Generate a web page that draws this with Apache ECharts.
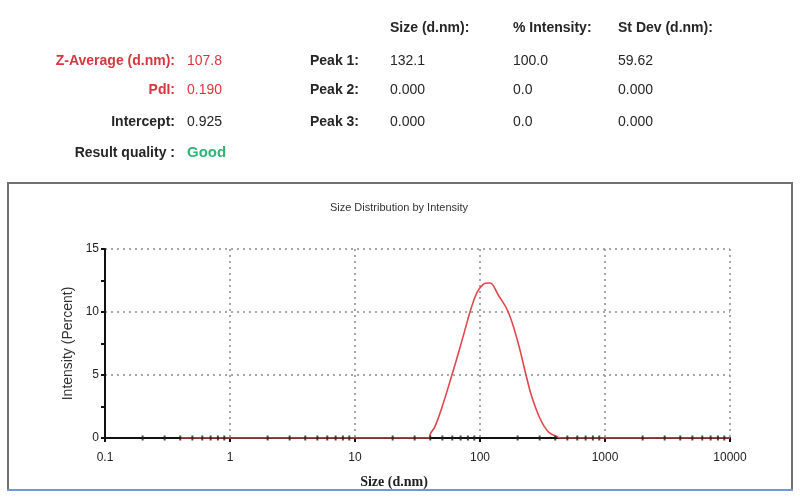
<!DOCTYPE html>
<html>
<head>
<meta charset="utf-8">
<script src="https://cdn.jsdelivr.net/npm/echarts@6/dist/echarts.min.js"></script>
<style>
html,body{margin:0;padding:0;background:#fff;}
#chart{width:800px;height:500px;}
</style>
</head>
<body>
<div id="chart"></div>
<script>
// ---- Data ----
const sizes = [0.4, 38.6, 40.3, 43.6, 50.8, 60.0, 67.0, 75.9, 83.2, 94.1, 106.2, 116.5, 120.2, 140.0, 168.3, 202.4, 232.1, 259.2, 302, 351.6, 411, 440, 10000];
const intensity = [0, 0, 0.37, 0.9, 2.75, 5.1, 6.7, 8.6, 10.0, 11.5, 12.2, 12.3, 12.3, 11.35, 10.0, 7.5, 5.1, 3.3, 1.55, 0.5, 0.12, 0, 0];
const xMinorTicks = [0.2,0.3,0.4,0.5,0.6,0.7,0.8,0.9, 2,3,4,5,6,7,8,9, 20,30,40,50,60,70,80,90, 200,300,400,500,600,700,800,900, 2000,3000,4000,5000,6000,7000,8000,9000];

const chartTitle = 'Size Distribution by Intensity';
const xAxisName = 'Size (d.nm)';
const yAxisName = 'Intensity (Percent)';

const summaryLabels = ['Z-Average (d.nm):', 'PdI:', 'Intercept:', 'Result quality :'];
const summaryValues = ['107.8', '0.190', '0.925', 'Good'];
const peakLabels = ['Peak 1:', 'Peak 2:', 'Peak 3:'];
const peakHeaders = ['Size (d.nm):', '% Intensity:', 'St Dev (d.nm):'];
const peakSize = ['132.1', '0.000', '0.000'];
const peakIntensity = ['100.0', '0.0', '0.0'];
const peakStDev = ['59.62', '0.000', '0.000'];

// ---- Styling / layout ----
const RED = '#d8363f';
const GREEN = '#2fb574';
const DARK = '#262626';
const FONT = 'Liberation Sans, Arial, sans-serif';

const rowY = [61, 90, 122, 153];
const summaryColors = [RED, RED, DARK, DARK];
const valueColors = [RED, RED, DARK, GREEN];
const colX = [390, 513, 618];

function txt(text, x, y, opts) {
  return {
    type: 'text', silent: true, z: 100,
    style: Object.assign({
      text: text, x: x, y: y,
      font: '14px ' + FONT, fill: DARK,
      align: 'left', verticalAlign: 'middle',
      textAlign: 'left', textVerticalAlign: 'middle'
    }, opts || {})
  };
}

const graphics = [];
// chart frame
graphics.push({ type: 'rect', silent: true, z: 0, shape: { x: 8, y: 183, width: 784, height: 307 },
  style: { fill: '#fff', stroke: '#707070', lineWidth: 2 } });
graphics.push({ type: 'line', silent: true, z: 1, shape: { x1: 7, y1: 490, x2: 793, y2: 490 },
  style: { stroke: '#6d9ad6', lineWidth: 2 } });

summaryLabels.forEach((t, i) => {
  graphics.push(txt(t, 175, rowY[i], { font: 'bold 14px ' + FONT, fill: summaryColors[i], align: 'right', textAlign: 'right' }));
  graphics.push(txt(summaryValues[i], 187, rowY[i], {
    fill: valueColors[i],
    font: (i === 3 ? 'bold 15px ' : '14px ') + FONT
  }));
});
peakLabels.forEach((t, i) => {
  graphics.push(txt(t, 310, rowY[i], { font: 'bold 14px ' + FONT }));
  graphics.push(txt(peakSize[i], colX[0], rowY[i]));
  graphics.push(txt(peakIntensity[i], colX[1], rowY[i]));
  graphics.push(txt(peakStDev[i], colX[2], rowY[i]));
});
peakHeaders.forEach((t, i) => {
  graphics.push(txt(t, colX[i], 28, { font: 'bold 14px ' + FONT }));
});
graphics.push(txt(chartTitle, 399, 208, { font: '11px ' + FONT, fill: '#333', align: 'center', textAlign: 'center' }));
graphics.push(txt(xAxisName, 394, 482, { font: 'bold 14px Liberation Serif, Times New Roman, serif', fill: '#222', align: 'center', textAlign: 'center' }));

const chart = echarts.init(document.getElementById('chart'), null, { renderer: 'canvas' });
chart.setOption({
  animation: false,
  backgroundColor: '#fff',
  graphic: graphics,
  grid: { left: 105, right: 70, top: 249, bottom: 62, containLabel: false },
  xAxis: {
    type: 'log', logBase: 10, min: 0.1, max: 10000,
    axisLine: { show: true, lineStyle: { color: '#111', width: 2 } },
    axisTick: { show: true, length: 4, lineStyle: { color: '#111', width: 2 } },
    axisLabel: { color: '#222', fontSize: 12, fontFamily: FONT, margin: 14,
      formatter: v => String(Number(Number(v).toPrecision(3))) },
    splitLine: { show: true, lineStyle: { color: '#8c8c8c', type: [2, 4], width: 1.5 } },
    minorTick: { show: false }
  },
  yAxis: {
    type: 'value', min: 0, max: 15, interval: 5,
    name: yAxisName, nameLocation: 'middle', nameGap: 30, nameRotate: 90,
    nameTextStyle: { color: '#333', fontSize: 14, fontFamily: FONT },
    axisLine: { show: true, lineStyle: { color: '#111', width: 2 } },
    axisTick: { show: true, length: 4, lineStyle: { color: '#111', width: 2 } },
    minorTick: { show: true, splitNumber: 2, length: 4, lineStyle: { color: '#111', width: 2 } },
    axisLabel: { color: '#222', fontSize: 12, fontFamily: FONT, margin: 6 },
    splitLine: { show: true, lineStyle: { color: '#8c8c8c', type: [2, 4], width: 1.5 } }
  },
  series: [
    {
      type: 'line', silent: true, z: 3,
      data: sizes.map((s, i) => [s, intensity[i]]),
      showSymbol: false, symbol: 'none',
      smooth: 0.4,
      lineStyle: { color: '#e0474d', width: 1.6 }
    },
    {
      type: 'scatter', silent: true, z: 4,
      data: xMinorTicks.map(v => [v, 0]),
      symbol: 'rect', symbolSize: [2, 5],
      itemStyle: { color: '#222' }
    }
  ]
});
</script>
</body>
</html>
